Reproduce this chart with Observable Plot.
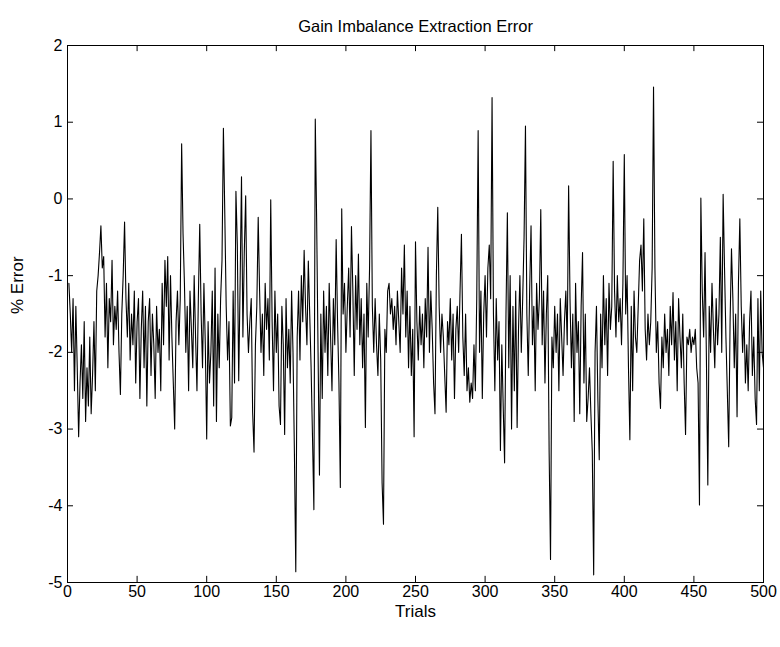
<!DOCTYPE html>
<html>
<head>
<meta charset="utf-8">
<script src="https://cdn.jsdelivr.net/npm/d3@7"></script>
<script src="https://cdn.jsdelivr.net/npm/@observablehq/plot@0.6"></script>
<style>
  html, body { margin: 0; padding: 0; background: #fff; }
</style>
</head>
<body>
<div id="chart"></div>
<script>
const title = "Gain Imbalance Extraction Error";
const xLabel = "Trials";
const yLabel = "% Error";
const xTicks = [0, 50, 100, 150, 200, 250, 300, 350, 400, 450, 500];
const yTicks = [-5, -4, -3, -2, -1, 0, 1, 2];

const errorValues = [
  -1.1, -1.5, -2.0, -1.3, -2.5, -1.4, -2.2, -3.1, -2.4, -1.9,
  -2.6, -1.6, -2.9, -2.2, -2.7, -1.8, -2.8, -2.3, -1.6, -2.5,
  -1.2, -1.0, -0.7, -0.35, -0.9, -0.75, -1.8, -1.1, -2.2, -1.3,
  -1.6, -0.8, -1.9, -1.4, -1.7, -1.2, -2.0, -2.55, -1.5, -1.0,
  -0.3, -1.3, -1.8, -1.1, -2.1, -1.5, -1.9, -1.2, -2.4, -1.6,
  -1.3, -2.6, -1.7, -1.2, -2.2, -1.4, -2.7, -1.6, -1.3, -2.3,
  -1.5, -1.9, -2.6, -1.4, -2.0, -1.7, -2.5, -1.1, -1.9, -0.8,
  -1.4, -0.75, -2.1, -1.0, -1.8, -2.4, -3.0, -1.6, -1.2, -1.9,
  -1.3, 0.72, -0.45, -1.1, -2.0, -1.4, -2.5, -1.2, -1.7, -2.2,
  -1.0, -1.8, -2.5, -1.3, -0.33, -1.5, -2.2, -1.1, -1.9, -3.13,
  -1.6, -2.4, -2.0, -1.2, -2.7, -0.9, -2.9, -1.5, -2.2, -1.3,
  -0.8, 0.92, -0.2, -1.4, -2.1, -1.6, -2.96, -2.85, -1.2, -2.4,
  0.1, -0.6, -2.37, -1.1, 0.29, -1.8, -0.7, 0.04, -1.5, -2.0,
  -1.6, -1.3, -2.78, -3.3, -1.9, -1.4, -0.24, -1.2, -2.0, -1.5,
  -2.3, -1.1, -1.7, -1.3, -2.1, -0.01, -1.6, -2.5, -1.2, -2.0,
  -1.5, -2.7, -2.94, -1.4, -1.9, -3.07, -1.3, -2.2, -1.7, -2.4,
  -1.2, -2.0, -3.3, -4.86, -1.8, -1.2, -2.1, -1.0, -1.6, -0.67,
  -1.4, -1.9, -0.81, -1.5, -2.2, -3.1, -4.05, 1.04, -0.3, -2.0,
  -3.6, -1.5, -2.6, -1.2, -2.0, -1.4, -2.3, -1.1, -1.8, -2.5,
  -1.3, -1.9, -0.53, -1.6, -2.4, -3.76, -0.13, -1.5, -1.1, -2.0,
  -1.4, -0.9, -1.8, -0.36, -1.2, -2.3, -1.0, -1.7, -0.72, -1.9,
  -1.3, -2.2, -1.5, -2.98, -1.1, -1.8, -0.9, 0.89, -1.4, -2.0,
  -1.3, -1.9, -2.3, -1.5, -2.1, -3.7, -4.24, -1.7, -2.0, -1.2,
  -1.1, -1.5, -1.3, -1.7, -1.4, -1.9, -1.2, -1.6, -2.0, -0.9,
  -1.5, -0.6, -1.8, -1.2, -2.2, -1.4, -2.3, -1.7, -3.1, -0.56,
  -1.6, -2.1, -1.4, -1.9, -1.5, -2.2, -1.3, -1.8, -0.63, -2.0,
  -1.2, -1.7, -2.4, -2.8, -1.0, -0.11, -1.4, -2.0, -1.5, -1.8,
  -2.3, -2.78, -1.6, -1.9, -1.3, -2.1, -1.5, -2.6, -1.7, -1.4,
  -2.0, -1.2, -0.46, -1.8, -2.3, -1.5, -2.5, -2.2, -2.65, -2.4,
  -2.6, -1.9, -2.5, -1.3, 0.89, -2.0, -1.2, -2.6, -1.5, -1.0,
  -1.8, -0.9, -0.6, -1.3, 1.32, -1.5, -2.5, -1.3, -2.1, -1.6,
  -3.28, -1.9, -2.7, -3.44, -1.5, -0.18, -2.2, -1.0, -3.0, -1.4,
  -2.5, -1.2, -2.98, -1.7, -1.0, -2.0, -1.3, -0.5, 0.95, -1.5,
  -2.3, -1.2, -0.35, -1.9, -1.4, -2.5, -1.1, -1.7, -1.3, -0.14,
  -1.9, -1.2, -2.4, -1.5, -1.0, -3.3, -4.7, -1.8, -2.2, -1.4,
  -2.0, -1.5, -2.5, -1.3, -1.8, -2.3, -1.6, -1.2, -1.9, 0.17,
  -1.3, -2.2, -1.5, -2.9, -1.1, -2.0, -1.6, -2.8, -1.4, -0.7,
  -2.4, -1.5, -2.9, -2.6, -2.2, -2.8, -3.3, -4.9, -2.0, -1.4,
  -2.6, -3.4, -1.5, -2.2, -1.0, -1.9, -1.3, -2.3, -1.1, -1.7,
  -1.4, 0.49, -1.2, -1.8, -1.0, -1.6, -1.3, -1.9, -1.1, 0.58,
  -1.5, -1.0, -2.2, -3.14, -1.4, -2.5, -1.2, -1.8, -2.0, -1.4,
  -0.8, -0.6, -1.2, -0.26, -1.7, -2.1, -1.5, -1.9, -1.6, -0.9,
  1.46, -0.9, -2.0, -1.6, -2.4, -2.73, -1.8, -2.2, -1.5, -2.0,
  -1.7, -2.3, -1.4, -1.9, -1.22, -2.1, -1.6, -2.5, -1.3, -1.8,
  -2.2, -1.5, -2.4, -3.07, -1.8, -1.9, -1.7, -2.0, -1.8, -1.9,
  -1.7, -2.2, -2.4, -3.99, 0.01, -1.2, -1.8, -0.7, -2.1, -3.73,
  -1.4, -2.0, -1.1, -1.7, -2.2, -1.3, -1.9, -1.5, -0.5, -2.0,
  0.06, -0.9, -1.8, -2.5, -3.23, -1.6, -0.65, -1.3, -2.2, -1.5,
  -2.84, -1.1, -0.26, -1.4, -2.0, -1.5, -2.4, -1.9, -2.5, -1.6,
  -1.2, -2.3, -1.8, -2.6, -2.94, -1.3, -2.5, -1.2, -2.0, -2.2
];

const data = errorValues.map((v, i) => ({trial: i + 1, error: v}));

const font = "'Liberation Sans Narrow', 'Arial Narrow', 'Liberation Sans', Arial, sans-serif";
const xTickLen = 4.3;   // in trial units
const yTickLen = 0.08;  // in % units
const fmt = d => String(d);

const chart = Plot.plot({
  width: 780,
  height: 647,
  marginLeft: 67,
  marginRight: 17,
  marginTop: 45,
  marginBottom: 65,
  style: {fontFamily: font, fontSize: "16px", color: "black", background: "white"},
  x: {domain: [0, 500], ticks: xTicks, label: null},
  y: {domain: [-5, 2], ticks: yTicks, label: null},
  marks: [
    Plot.line(data, {x: "trial", y: "error", stroke: "black", strokeWidth: 1.1}),
    Plot.ruleX(xTicks, {x: d => d, y1: -5, y2: -5 + yTickLen, stroke: "black"}),
    Plot.ruleX(xTicks, {x: d => d, y1: 2, y2: 2 - yTickLen, stroke: "black"}),
    Plot.ruleY(yTicks, {y: d => d, x1: 0, x2: xTickLen, stroke: "black"}),
    Plot.ruleY(yTicks, {y: d => d, x1: 500, x2: 500 - xTickLen, stroke: "black"}),
    Plot.frame({stroke: "black", strokeWidth: 1}),
    Plot.axisX({ticks: xTicks, tickSize: 0, tickPadding: 3, label: null, fontSize: 16, tickFormat: fmt}),
    Plot.axisY({ticks: yTicks, tickSize: 0, tickPadding: 5, label: null, fontSize: 16, tickFormat: fmt}),
    Plot.text([title], {frameAnchor: "top", dy: -25, fontSize: 16.5, text: d => d}),
    Plot.text([xLabel], {frameAnchor: "bottom", dy: 34, fontSize: 17, text: d => d}),
    Plot.text([yLabel], {frameAnchor: "left", dx: -50, rotate: -90, fontSize: 17, text: d => d})
  ]
});

document.getElementById("chart").appendChild(chart);
</script>
</body>
</html>
